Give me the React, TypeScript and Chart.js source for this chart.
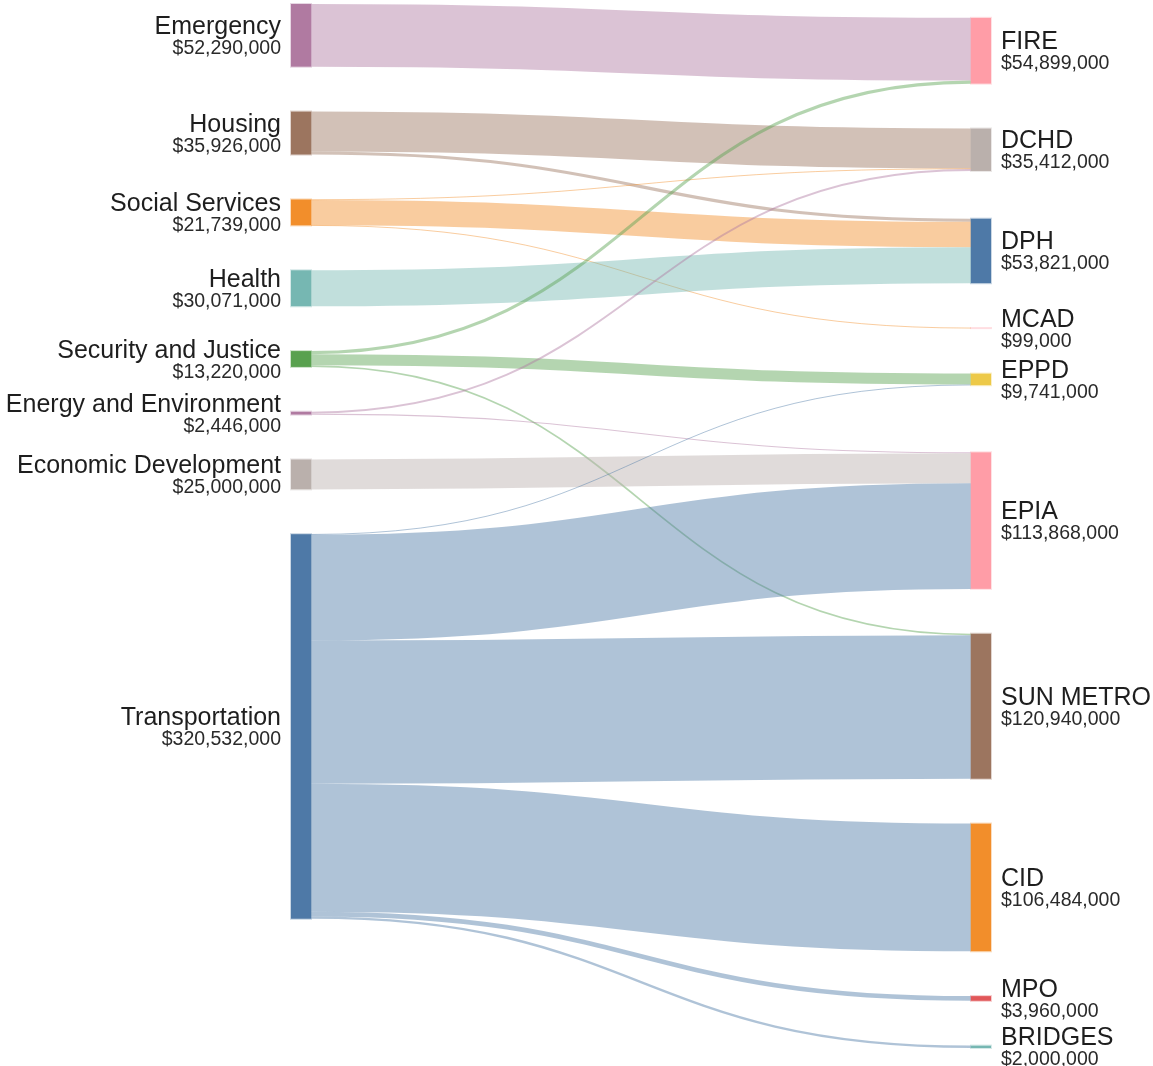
import React, { useEffect, useRef } from "react";
import { Chart, registerables } from "chart.js";

Chart.register(...registerables);

// ---- Data ----
const sourceNames = [
  "Emergency",
  "Housing",
  "Social Services",
  "Health",
  "Security and Justice",
  "Energy and Environment",
  "Economic Development",
  "Transportation",
];
const sourceColors = ["#b07aa1", "#9c755f", "#f28e2b", "#76b7b2", "#59a14f", "#b07aa1", "#bab0ac", "#4e79a7"];

const targetNames = ["FIRE", "DCHD", "DPH", "MCAD", "EPPD", "EPIA", "SUN METRO", "CID", "MPO", "BRIDGES"];
const targetColors = ["#ff9da7", "#bab0ac", "#4e79a7", "#ff9da7", "#edc948", "#ff9da7", "#9c755f", "#f28e2b", "#e15759", "#76b7b2"];

const linkSource = [0, 1, 1, 2, 2, 2, 3, 4, 4, 4, 5, 5, 6, 7, 7, 7, 7, 7, 7];
const linkTarget = [0, 1, 2, 1, 2, 3, 2, 0, 4, 6, 1, 5, 5, 4, 5, 6, 7, 8, 9];
const linkValue = [
  52290000, 33316000, 2610000, 500000, 21140000, 99000, 30071000, 2609000, 9200000, 1411000,
  1596000, 850000, 25000000, 541000, 88018000, 119529000, 106484000, 3960000, 2000000,
];

// ---- Layout settings ----
const UNIT = 1e6; // y axis measured in millions of dollars
const Y_MAX = 870;
const NODE_PADDING = 37.3; // gap between nodes, in axis units
const NODE_WIDTH = 20;
const LINK_ALPHA = 0.45;

type NodeL = { name: string; color: string; value: number; raw: number; y0: number; y1: number };
type LinkL = { s: number; t: number; v: number; raw: number; sy: number; ty: number };

function fmt(v: number) {
  return "$" + Math.round(v).toLocaleString("en-US");
}

function computeLayout() {
  const srcRaw = sourceNames.map((_, i) => linkValue.reduce((a, v, k) => (linkSource[k] === i ? a + v : a), 0));
  const tgtRaw = targetNames.map((_, i) => linkValue.reduce((a, v, k) => (linkTarget[k] === i ? a + v : a), 0));
  let y = 0;
  const src: NodeL[] = sourceNames.map((name, i) => {
    const value = srcRaw[i] / UNIT;
    const n = { name, color: sourceColors[i], value, raw: srcRaw[i], y0: y, y1: y + value };
    y = n.y1 + NODE_PADDING;
    return n;
  });
  const tgt: NodeL[] = targetNames.map((name, i) => {
    let s = 0;
    let w = 0;
    linkValue.forEach((v, k) => {
      if (linkTarget[k] === i) {
        const sn = src[linkSource[k]];
        s += v * ((sn.y0 + sn.y1) / 2);
        w += v;
      }
    });
    const c = s / w;
    const value = tgtRaw[i] / UNIT;
    return { name, color: targetColors[i], value, raw: tgtRaw[i], y0: c - value / 2, y1: c + value / 2 };
  });
  // keep input order, resolve collisions top-down then bottom-up
  let yy = 0;
  for (const n of tgt) {
    if (n.y0 < yy) {
      const d = yy - n.y0;
      n.y0 += d;
      n.y1 += d;
    }
    yy = n.y1 + NODE_PADDING;
  }
  let yb = Y_MAX;
  for (let i = tgt.length - 1; i >= 0; i--) {
    const n = tgt[i];
    if (n.y1 > yb) {
      const d = n.y1 - yb;
      n.y0 -= d;
      n.y1 -= d;
    }
    yb = n.y0 - NODE_PADDING;
  }
  const links: LinkL[] = linkValue.map((raw, k) => ({ s: linkSource[k], t: linkTarget[k], v: raw / UNIT, raw, sy: 0, ty: 0 }));
  src.forEach((n, i) => {
    const ls = links.filter((l) => l.s === i).sort((a, b) => tgt[a.t].y0 - tgt[b.t].y0);
    let off = n.y0;
    ls.forEach((l) => {
      l.sy = off + l.v / 2;
      off += l.v;
    });
  });
  tgt.forEach((n, i) => {
    const ls = links.filter((l) => l.t === i).sort((a, b) => src[a.s].y0 - src[b.s].y0);
    let off = n.y0;
    ls.forEach((l) => {
      l.ty = off + l.v / 2;
      off += l.v;
    });
  });
  return { src, tgt, links };
}

function hexToRgba(hex: string, a: number) {
  const h = hex.replace("#", "");
  const r = parseInt(h.slice(0, 2), 16);
  const g = parseInt(h.slice(2, 4), 16);
  const b = parseInt(h.slice(4, 6), 16);
  return `rgba(${r},${g},${b},${a})`;
}

const sankeyPlugin = {
  id: "sankeyDraw",
  afterDatasetsDraw(chart: any) {
    const { ctx } = chart;
    const xs = chart.scales.x;
    const ys = chart.scales.y;
    const { src, tgt, links } = computeLayout();
    const leftX0 = xs.getPixelForValue(0);
    const leftX1 = leftX0 + NODE_WIDTH;
    const rightX1 = xs.getPixelForValue(1);
    const rightX0 = rightX1 - NODE_WIDTH;
    const py = (v: number) => ys.getPixelForValue(v);
    const k = Math.abs(py(1) - py(0));

    ctx.save();
    // links
    links.forEach((l) => {
      const ya = py(l.sy);
      const yb = py(l.ty);
      const xm = (leftX1 + rightX0) / 2;
      ctx.beginPath();
      ctx.moveTo(leftX1, ya);
      ctx.bezierCurveTo(xm, ya, xm, yb, rightX0, yb);
      ctx.strokeStyle = hexToRgba(src[l.s].color, LINK_ALPHA);
      ctx.lineWidth = Math.max(1, l.v * k);
      ctx.lineCap = "butt";
      ctx.stroke();
    });
    // nodes
    const drawNode = (n: NodeL, x0: number) => {
      const y0 = py(n.y0);
      const y1 = py(n.y1);
      ctx.fillStyle = n.color;
      ctx.fillRect(x0, y0, NODE_WIDTH, y1 - y0);
      ctx.strokeStyle = hexToRgba(n.color, 0.3);
      ctx.lineWidth = 1;
      ctx.strokeRect(x0 - 0.5, y0 - 0.5, NODE_WIDTH + 1, y1 - y0 + 1);
    };
    src.forEach((n) => drawNode(n, leftX0));
    tgt.forEach((n) => drawNode(n, rightX0));
    // labels
    const drawLabel = (n: NodeL, x: number, align: CanvasTextAlign) => {
      const c = (py(n.y0) + py(n.y1)) / 2;
      ctx.textAlign = align;
      ctx.textBaseline = "alphabetic";
      ctx.fillStyle = "#1e1e1e";
      ctx.font = "25px 'Liberation Sans', Arial, sans-serif";
      ctx.fillText(n.name, x, c - 1.5);
      ctx.fillStyle = "#2a2a2a";
      ctx.font = "19.5px 'Liberation Sans', Arial, sans-serif";
      ctx.fillText(fmt(n.raw), x, c + 18.5);
    };
    src.forEach((n) => drawLabel(n, leftX0 - 10, "right"));
    tgt.forEach((n) => drawLabel(n, rightX1 + 10, "left"));
    ctx.restore();
  },
};

export default function App() {
  const ref = useRef<HTMLCanvasElement | null>(null);
  useEffect(() => {
    document.body.style.margin = "0";
    if (!ref.current) return;
    const chart = new Chart(ref.current, {
      type: "scatter",
      data: { datasets: [{ data: [] }] },
      options: {
        animation: false,
        responsive: false,
        layout: { padding: { left: 291, right: 162, top: 4, bottom: 18 } },
        scales: {
          x: { type: "linear", min: 0, max: 1, display: false },
          y: { type: "linear", min: 0, max: Y_MAX, reverse: true, display: false },
        },
        plugins: { legend: { display: false }, tooltip: { enabled: false } },
      },
      plugins: [sankeyPlugin],
    } as any);
    return () => chart.destroy();
  }, []);
  return <canvas ref={ref} width={1153} height={1066} style={{ display: "block" }} />;
}
